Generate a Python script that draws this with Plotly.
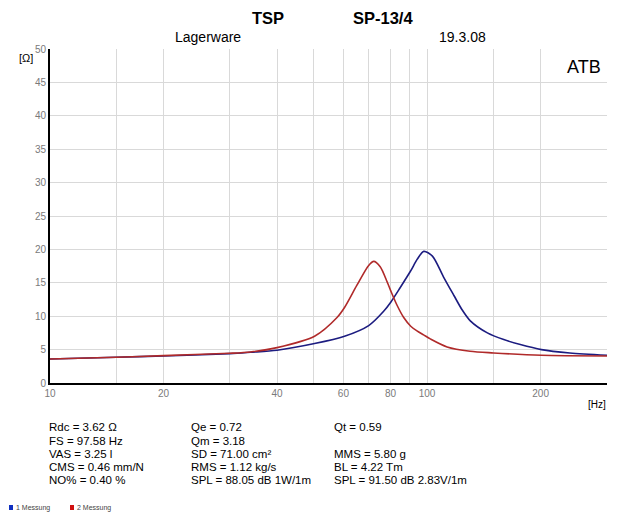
import plotly.graph_objects as go

# Measurement 1 (blue)
freq_blue = [10, 15, 20, 30, 34, 40, 50.3, 60.4, 70, 76.6, 80.1, 84.9, 90.5, 94.1, 98, 103.3, 110.5, 117.8,
             123.7, 130.2, 144.5, 159.7, 176.7, 201, 239, 300]
imp_blue = [3.6, 3.85, 4.05, 4.4, 4.6, 4.9, 5.9, 7.0, 8.6, 10.7, 12.1, 14.3, 16.8, 18.5, 19.7, 19.0, 15.9, 13.1,
            11.0, 9.3, 7.5, 6.5, 5.75, 5.0, 4.5, 4.15]

# Measurement 2 (red)
freq_red = [10, 15, 20, 30, 34, 40, 50.3, 57.7, 60.4, 65.1, 70, 72.2, 75.1, 78.4, 80.1, 83.3, 86.7, 90.5, 94,
            97.9, 102, 113, 130, 150, 201, 300]
imp_red = [3.6, 3.85, 4.1, 4.45, 4.65, 5.3, 7.0, 9.8, 11.3, 14.6, 17.6, 18.2, 17.4, 15.1, 13.8, 11.6, 9.8, 8.5,
           7.8, 7.2, 6.6, 5.4, 4.75, 4.5, 4.15, 4.05]

y_ticks = [0, 5, 10, 15, 20, 25, 30, 35, 40, 45, 50]
x_grid = [10, 15, 20, 30, 40, 50, 60, 70, 80, 90, 100, 150, 200, 300]
x_labels = ["10", "", "20", "", "40", "", "60", "", "80", "", "100", "", "200", ""]

params = [
    ("Rdc = 3.62 Ω", "Qe = 0.72", "Qt = 0.59"),
    ("FS = 97.58 Hz", "Qm = 3.18", ""),
    ("VAS = 3.25 l", "SD = 71.00 cm²", "MMS = 5.80 g"),
    ("CMS = 0.46 mm/N", "RMS = 1.12 kg/s", "BL = 4.22 Tm"),
    ("NO% = 0.40 %", "SPL = 88.05 dB 1W/1m", "SPL = 91.50 dB 2.83V/1m"),
]
legend_names = ["1 Messung", "2 Messung"]

BLUE = "#1c1c80"
RED = "#b02a2a"
FONT = "Liberation Sans, Arial, sans-serif"

# page has an 8px body margin; figure is placed at (8, 8)
OFF = 8
W, H = 632, 504
L, R, T, B = 42, 33, 41, 129
PW = W - L - R
PH = H - T - B

def to_paper(x, y):
    # x, y in screenshot pixels
    return (x - OFF - L) / PW, (H - B - (y - OFF)) / PH

fig = go.Figure()
fig.add_trace(go.Scatter(x=freq_blue, y=imp_blue, mode="lines", name=legend_names[0],
                         line=dict(color=BLUE, width=1.6, shape="spline", smoothing=0.8),
                         showlegend=False, hoverinfo="skip"))
fig.add_trace(go.Scatter(x=freq_red, y=imp_red, mode="lines", name=legend_names[1],
                         line=dict(color=RED, width=1.6, shape="spline", smoothing=0.8),
                         showlegend=False, hoverinfo="skip"))

ann = []
def add_text(text, x, y, size, color="black", xanchor="left", yanchor="middle"):
    px_, py_ = to_paper(x, y)
    ann.append(dict(text=text, showarrow=False, font=dict(size=size, color=color, family=FONT),
                    xanchor=xanchor, yanchor=yanchor, x=px_, y=py_, xref="paper", yref="paper"))

add_text("<b>TSP</b>", 268, 18, 16.5, xanchor="center")
add_text("<b>SP-13/4</b>", 383, 18, 16.5, xanchor="center")
add_text("Lagerware", 208, 37, 14, xanchor="center")
add_text("19.3.08", 462, 37, 14, xanchor="center")
add_text("[Ω]", 26, 58, 11, xanchor="center")
add_text("[Hz]", 597, 404, 10, xanchor="center")
add_text("ATB", 584, 67, 18, xanchor="center")

col_x = [50, 192, 335]
row_y = [427, 441, 454, 467, 480]
for r, row in enumerate(params):
    for c, t in enumerate(row):
        if t:
            add_text(t, col_x[c] - 3, row_y[r], 11.5)

# small legend at the bottom
shapes = []
leg_colors = ["#1030c0", "#d01010"]
leg_x = [9, 70]
for name, col, lx in zip(legend_names, leg_colors, leg_x):
    x0, y0 = to_paper(lx, 505)
    x1, y1 = to_paper(lx + 4, 510)
    shapes.append(dict(type="rect", xref="paper", yref="paper", x0=x0, x1=x1, y0=y1, y1=y0,
                       fillcolor=col, line=dict(width=0)))
    add_text(name, lx + 5, 507.5, 7, color="#444444")

fig.update_layout(
    width=W, height=H,
    margin=dict(l=L, r=R, t=T, b=B),
    paper_bgcolor="white", plot_bgcolor="white",
    font=dict(family=FONT),
    annotations=ann,
    shapes=shapes,
    showlegend=False,
    xaxis=dict(type="log", range=[1, 2.4771], tickvals=x_grid, ticktext=x_labels,
               showgrid=True, gridcolor="#d9d9d9", gridwidth=1,
               showline=True, linecolor="black", linewidth=2, ticks="", zeroline=False,
               tickfont=dict(size=10, color="#7a7a7a", family=FONT)),
    yaxis=dict(range=[0, 50], tickvals=y_ticks, showgrid=True, gridcolor="#d9d9d9", gridwidth=1,
               showline=True, linecolor="black", linewidth=2, ticks="", zeroline=False,
               tickfont=dict(size=10, color="#7a7a7a", family=FONT)),
)

fig.write_html("out.html")
